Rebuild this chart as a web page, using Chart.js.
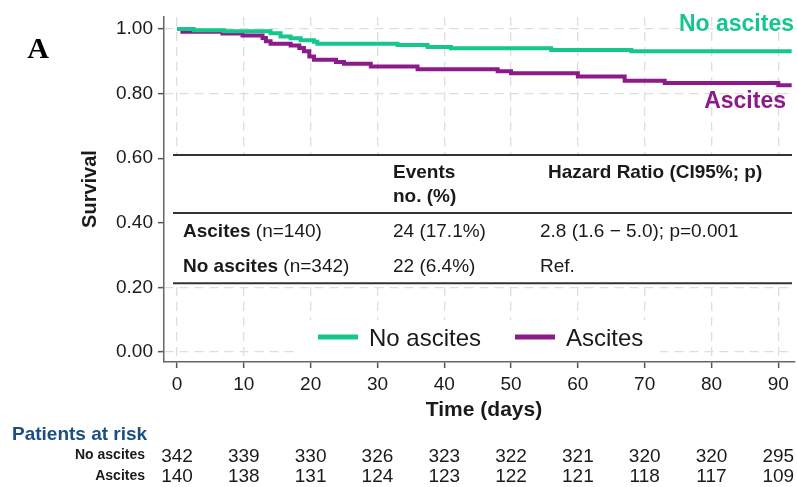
<!DOCTYPE html>
<html>
<head>
<meta charset="utf-8">
<script src="https://cdn.jsdelivr.net/npm/chart.js@4.4.1/dist/chart.umd.min.js"></script>
<style>
  html, body { margin: 0; padding: 0; background: #fff; }
  #wrap { width: 797px; height: 487px; position: relative; }
</style>
</head>
<body>
<div id="wrap"><canvas id="km"></canvas></div>
<script>
// Kaplan-Meier steps: day of the drop, survival after it
const daysNoAscites = [0, 2.5, 7, 14, 15.5, 17, 18.5, 20.5, 21, 33, 37.5, 41, 56, 68, 92];
const survNoAscites = [1.000, 0.996, 0.993, 0.987, 0.977, 0.971, 0.965, 0.960, 0.954, 0.950, 0.944, 0.940, 0.935, 0.931, 0.931];

const daysAscites = [0, 0.8, 6.8, 9.8, 12.8, 13.3, 14, 17, 18.3, 19, 19.8, 20.5, 23.8, 25, 29, 36, 48, 50, 60, 67, 73, 90, 92];
const survAscites = [1.000, 0.991, 0.986, 0.980, 0.972, 0.962, 0.954, 0.949, 0.941, 0.931, 0.915, 0.905, 0.898, 0.892, 0.884, 0.875, 0.869, 0.863, 0.853, 0.840, 0.833, 0.826, 0.826];

const seriesNames = ['No ascites', 'Ascites'];

const xTicks = [0, 10, 20, 30, 40, 50, 60, 70, 80, 90];
const yTicks = [0, 0.2, 0.4, 0.6, 0.8, 1.0];

// patients at risk at each x tick
const riskNoAscites = [342, 339, 330, 326, 323, 322, 321, 320, 320, 295];
const riskAscites = [140, 138, 131, 124, 123, 122, 121, 118, 117, 109];

// inset table
const tableHeadEvents = ['Events', 'no. (%)'];
const tableHeadHR = 'Hazard Ratio (CI95%; p)';
const tableGroups = ['Ascites', 'No ascites'];
const tableN = [' (n=140)', ' (n=342)'];
const tableEvents = ['24 (17.1%)', '22 (6.4%)'];
const tableHR = ['2.8 (1.6 \u2212 5.0); p=0.001', 'Ref.'];

const FONT = "'Liberation Sans', Arial, Helvetica, sans-serif";
const GREEN = '#16c68f';
const PURPLE = '#8c1a8b';
const INK = '#1a1a1a';

const extras = {
    id: 'extras',
    beforeDatasetsDraw(chart) {
        const { ctx, chartArea: a, scales: { y } } = chart;
        ctx.save();
        // white panel for the table, hides the grid
        const top = y.getPixelForValue(0.61);
        const mid = y.getPixelForValue(0.43);
        const bot = y.getPixelForValue(0.213);
        ctx.fillStyle = '#fff';
        ctx.fillRect(a.left + 1, top, a.right - a.left - 1, bot - top);
        // white panel behind the legend
        ctx.fillRect(300, 320, 360, a.bottom - 321);

        ctx.strokeStyle = '#333';
        ctx.lineWidth = 2;
        [top, mid, bot].forEach(py => {
            ctx.beginPath();
            ctx.moveTo(a.left + 9, py);
            ctx.lineTo(a.right - 3, py);
            ctx.stroke();
        });
        ctx.restore();
    },
    afterDraw(chart) {
        const { ctx, scales: { x } } = chart;
        ctx.save();
        ctx.textBaseline = 'middle';

        // panel letter
        ctx.fillStyle = '#000';
        ctx.font = "bold 30px 'Liberation Serif', 'Times New Roman', serif";
        ctx.textAlign = 'center';
        ctx.fillText('A', 38, 50);

        // curve labels
        ctx.textAlign = 'right';
        ctx.font = 'bold 23px ' + FONT;
        ctx.fillStyle = GREEN;
        ctx.fillText(seriesNames[0], 794, 25);
        ctx.fillStyle = PURPLE;
        ctx.fillText(seriesNames[1], 786, 102);

        // table
        ctx.textAlign = 'left';
        ctx.fillStyle = INK;
        ctx.font = 'bold 19px ' + FONT;
        ctx.fillText(tableHeadEvents[0], 393, 173);
        ctx.fillText(tableHeadEvents[1], 393, 197);
        ctx.fillText(tableHeadHR, 548, 173);
        const rowY = [232, 267];
        tableGroups.forEach((g, i) => {
            ctx.font = 'bold 19px ' + FONT;
            ctx.fillText(g, 183, rowY[i]);
            const w = ctx.measureText(g).width;
            ctx.font = '19px ' + FONT;
            ctx.fillText(tableN[i], 183 + w, rowY[i]);
            ctx.fillText(tableEvents[i], 393, rowY[i]);
            ctx.fillText(tableHR[i], 540, rowY[i]);
        });

        // legend
        const legX = [318, 515];
        chart.data.datasets.forEach((ds, i) => {
            ctx.strokeStyle = ds.borderColor;
            ctx.lineWidth = 5;
            ctx.beginPath();
            ctx.moveTo(legX[i], 337);
            ctx.lineTo(legX[i] + 40, 337);
            ctx.stroke();
            ctx.fillStyle = INK;
            ctx.font = '24px ' + FONT;
            ctx.textAlign = 'left';
            ctx.fillText(ds.label, legX[i] + 51, 339);
        });

        // axis titles
        ctx.fillStyle = INK;
        ctx.font = 'bold 21px ' + FONT;
        ctx.textAlign = 'center';
        ctx.fillText('Time (days)', 484, 410);
        ctx.save();
        ctx.translate(90, 189);
        ctx.rotate(-Math.PI / 2);
        ctx.font = 'bold 20px ' + FONT;
        ctx.fillText('Survival', 0, 0);
        ctx.restore();

        // patients at risk
        ctx.textAlign = 'left';
        ctx.fillStyle = '#1b4f80';
        ctx.font = 'bold 19px ' + FONT;
        ctx.fillText('Patients at risk', 12, 435);
        ctx.fillStyle = INK;
        ctx.textAlign = 'right';
        ctx.font = 'bold 14px ' + FONT;
        ctx.fillText(seriesNames[0], 145, 455);
        ctx.fillText(seriesNames[1], 145, 476);
        ctx.textAlign = 'center';
        ctx.font = '19px ' + FONT;
        xTicks.forEach((d, i) => {
            const px = x.getPixelForValue(d);
            ctx.fillText(String(riskNoAscites[i]), px, 457);
            ctx.fillText(String(riskAscites[i]), px, 477);
        });
        ctx.restore();
    }
};

const toPoints = (days, surv) => days.map((d, i) => ({ x: d, y: surv[i] }));

new Chart(document.getElementById('km'), {
    type: 'line',
    data: {
        datasets: [{
            label: seriesNames[0],
            data: toPoints(daysNoAscites, survNoAscites),
            borderColor: GREEN,
            backgroundColor: GREEN,
            borderWidth: 4,
            pointRadius: 0,
            stepped: 'before',
            fill: false
        }, {
            label: seriesNames[1],
            data: toPoints(daysAscites, survAscites),
            borderColor: PURPLE,
            backgroundColor: PURPLE,
            borderWidth: 4,
            pointRadius: 0,
            stepped: 'before',
            fill: false
        }]
    },
    options: {
        responsive: true,
        maintainAspectRatio: false,
        animation: false,
        layout: { padding: { top: 17, right: 2, left: 0, bottom: 0 } },
        plugins: {
            legend: { display: false },
            tooltip: { enabled: false }
        },
        scales: {
            x: {
                type: 'linear',
                min: -1.95,
                max: 92.5,
                afterBuildTicks: s => { s.ticks = xTicks.map(v => ({ value: v })); },
                afterFit: s => { s.height = 125; },
                ticks: {
                    font: { family: FONT, size: 19 },
                    color: INK,
                    padding: 5,
                    maxRotation: 0,
                    callback: v => String(v)
                },
                grid: { color: '#dedede', lineWidth: 1.3, tickLength: 6, tickColor: '#555', tickWidth: 1.5 },
                border: { display: true, color: '#666', width: 1.5, dash: [9, 6] }
            },
            y: {
                type: 'linear',
                min: -0.031,
                max: 1.037,
                afterBuildTicks: s => { s.ticks = yTicks.map(v => ({ value: v })); },
                afterFit: s => { s.width = 164; },
                ticks: {
                    font: { family: FONT, size: 19 },
                    color: INK,
                    padding: 5,
                    callback: v => Number(v).toFixed(2)
                },
                grid: { color: '#dedede', lineWidth: 1.3, tickLength: 6, tickColor: '#555', tickWidth: 1.5 },
                border: { display: true, color: '#666', width: 1.5, dash: [9, 6] }
            }
        }
    },
    plugins: [extras]
});
</script>
</body>
</html>
